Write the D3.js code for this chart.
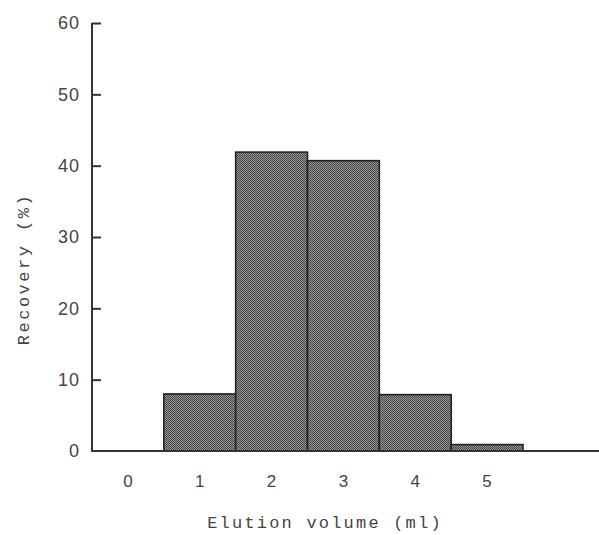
<!DOCTYPE html>
<html>
<head>
<meta charset="utf-8">
<script src="https://cdn.jsdelivr.net/npm/d3@7"></script>
<style>
  html, body { margin: 0; padding: 0; background: #fff; }
  svg { display: block; }
</style>
</head>
<body>
<div id="chart"></div>
<script>
// Elution fractions (ml) and recovery (%)
const categories = ['0', '1', '2', '3', '4', '5'];
const recovery = [0, 8.0, 41.9, 40.7, 7.9, 0.9];
const yTicks = [0, 10, 20, 30, 40, 50, 60];

const width = 599, height = 535;
const margin = { top: 23, left: 92, bottom: 84 };
const plotRight = 523;
const innerHeight = height - margin.top - margin.bottom;

const svg = d3.select('#chart').append('svg')
  .attr('width', width)
  .attr('height', height)
  .style('font-family', '"Liberation Mono", "DejaVu Sans Mono", monospace');

// halftone-like checker fill
const defs = svg.append('defs');
const pat = defs.append('pattern')
  .attr('id', 'dots')
  .attr('patternUnits', 'userSpaceOnUse')
  .attr('width', 2).attr('height', 2);
pat.append('rect').attr('width', 2).attr('height', 2).attr('fill', '#999');
pat.append('rect').attr('width', 1).attr('height', 1).attr('fill', '#444');
pat.append('rect').attr('x', 1).attr('y', 1).attr('width', 1).attr('height', 1).attr('fill', '#444');

const x = d3.scaleBand()
  .domain(categories)
  .range([margin.left, plotRight])
  .padding(0);

const y = d3.scaleLinear()
  .domain([0, 60])
  .range([margin.top + innerHeight, margin.top]);

// bars
svg.append('g')
  .selectAll('rect')
  .data(categories.map((c, i) => ({ c, v: recovery[i] })).filter(d => d.v > 0))
  .join('rect')
  .attr('x', d => x(d.c))
  .attr('y', d => y(d.v))
  .attr('width', x.bandwidth())
  .attr('height', d => y(0) - y(d.v))
  .attr('fill', 'url(#dots)')
  .attr('stroke', '#222')
  .attr('stroke-width', 1.6);

// y axis, ticks pointing inward
const yAxis = svg.append('g')
  .attr('transform', `translate(${margin.left},0)`)
  .call(d3.axisLeft(y).tickValues(yTicks).tickSize(-9).tickPadding(12));
yAxis.select('.domain')
  .attr('d', `M0,${y(60)}V${y(0)}`)
  .attr('stroke', '#333')
  .attr('stroke-width', 2);
yAxis.selectAll('.tick line').attr('stroke', '#333').attr('stroke-width', 2);
yAxis.selectAll('.tick text')
  .attr('fill', '#444')
  .style('font-size', '18px')
  .style('letter-spacing', '1px');
yAxis.select('.tick:first-of-type line').remove();

// baseline extends to the right edge
svg.append('line')
  .attr('x1', margin.left - 1).attr('x2', width)
  .attr('y1', y(0)).attr('y2', y(0))
  .attr('stroke', '#333')
  .attr('stroke-width', 2);

// x tick labels
const xAxis = svg.append('g')
  .attr('transform', `translate(0,${y(0)})`)
  .call(d3.axisBottom(x).tickSize(0).tickPadding(24));
xAxis.select('.domain').remove();
xAxis.selectAll('.tick text')
  .attr('fill', '#444')
  .style('font-size', '17px');

// axis titles
svg.append('text')
  .attr('x', 325)
  .attr('y', 528)
  .attr('text-anchor', 'middle')
  .attr('fill', '#444')
  .style('font-size', '17px')
  .style('letter-spacing', '2.2px')
  .text('Elution volume (ml)');

svg.append('text')
  .attr('transform', 'rotate(-90)')
  .attr('x', -269)
  .attr('y', 29)
  .attr('text-anchor', 'middle')
  .attr('fill', '#444')
  .style('font-size', '17px')
  .style('letter-spacing', '2.5px')
  .text('Recovery (%)');
</script>
</body>
</html>
